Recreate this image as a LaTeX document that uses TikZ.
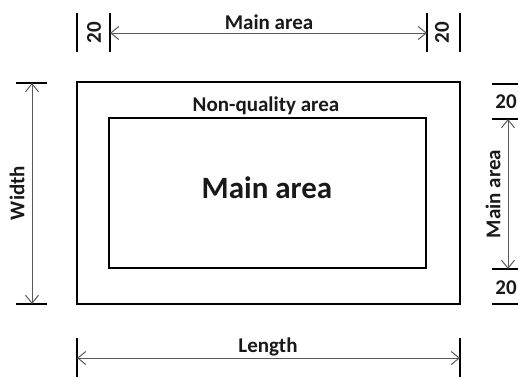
\documentclass[tikz,border=0pt]{standalone}
\usepackage{fontspec}
\setmainfont{Carlito}
\usetikzlibrary{arrows.meta}
\begin{document}
\begin{tikzpicture}[x=1pt,y=-1pt,
  box/.style={draw=black,line width=2pt},
  tick/.style={draw=black,line width=1.1pt},
  dim/.style={draw=black!65,line width=1pt,{Straight Barb[length=8pt,width=13pt]}-{Straight Barb[length=8pt,width=13pt]}},
  lbl/.style={font=\fontsize{21}{24}\selectfont\bfseries,inner sep=0pt,text=black!90},
  big/.style={font=\fontsize{31}{36}\selectfont\bfseries,inner sep=0pt,text=black!90}]
\useasboundingbox (0,0) rectangle (518,378);
% rectangles
\draw[box] (77,82) rectangle (460,304);
\draw[box] (109,118) rectangle (426,268);
\node[lbl,anchor=base] (nq) at (266,111) {Non-quality area};
\node[big,anchor=base] (ma) at (267,198) {Main area};
% top dimension
\coordinate (t1a) at (77,13); \coordinate (t1b) at (77,52);
\coordinate (t2a) at (110,13); \coordinate (t2b) at (110,52);
\coordinate (t3a) at (427,13); \coordinate (t3b) at (427,52);
\coordinate (t4a) at (460,13); \coordinate (t4b) at (460,52);
\draw[tick] (t1a) -- (t1b); \draw[tick] (t2a) -- (t2b);
\draw[tick] (t3a) -- (t3b); \draw[tick] (t4a) -- (t4b);
\coordinate (ta) at (110,33); \coordinate (tb) at (427,33);
\draw[dim] (ta) -- (tb);
\node[lbl,anchor=base] (tl) at (269,29) {Main area};
\node[lbl,rotate=90] (t20a) at (94,33) {20};
\node[lbl,rotate=90] (t20b) at (442,33) {20};
% bottom dimension
\coordinate (b1a) at (77,338); \coordinate (b1b) at (77,377);
\coordinate (b2a) at (460,338); \coordinate (b2b) at (460,377);
\draw[tick] (b1a) -- (b1b); \draw[tick] (b2a) -- (b2b);
\coordinate (ba) at (77,358); \coordinate (bb) at (460,358);
\draw[dim] (ba) -- (bb);
\node[lbl,anchor=base] (len) at (268,352) {Length};
% left dimension
\coordinate (l1a) at (16,83); \coordinate (l1b) at (47,83);
\coordinate (l2a) at (16,304); \coordinate (l2b) at (47,304);
\draw[tick] (l1a) -- (l1b); \draw[tick] (l2a) -- (l2b);
\coordinate (la) at (32,83); \coordinate (lb) at (32,304);
\draw[dim] (la) -- (lb);
\node[lbl,rotate=90] (wid) at (17,193) {Width};
% right dimension
\coordinate (r1a) at (492,84); \coordinate (r1b) at (518,84);
\coordinate (r2a) at (492,119); \coordinate (r2b) at (518,119);
\coordinate (r3a) at (492,269); \coordinate (r3b) at (518,269);
\coordinate (r4a) at (492,304); \coordinate (r4b) at (518,304);
\draw[tick] (r1a) -- (r1b); \draw[tick] (r2a) -- (r2b);
\draw[tick] (r3a) -- (r3b); \draw[tick] (r4a) -- (r4b);
\coordinate (ra) at (508,119); \coordinate (rb) at (508,269);
\draw[dim] (ra) -- (rb);
\node[lbl,rotate=90] (rm) at (493,194) {Main area};
\node[lbl] (r20a) at (506,102) {20};
\node[lbl] (r20b) at (506,288) {20};
\end{tikzpicture}
\end{document}
